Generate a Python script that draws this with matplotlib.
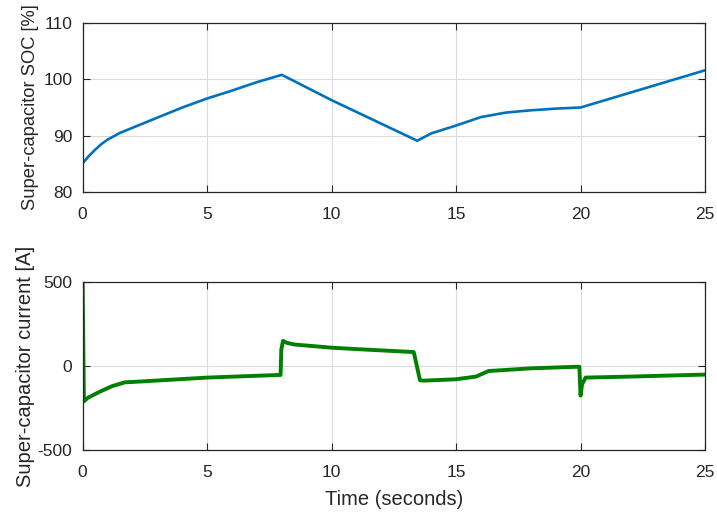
import matplotlib
matplotlib.use("Agg")
import matplotlib.pyplot as plt

plt.rcParams['font.family'] = ['Liberation Sans', 'DejaVu Sans']
plt.rcParams['axes.unicode_minus'] = False

# SOC data
soc_t = [0, 0.25, 0.5, 0.75, 1, 1.5, 2, 3, 4, 5, 6, 7, 8, 10, 13.44, 14, 15, 16, 17, 18, 19, 20, 25]
soc_v = [85.1, 86.4, 87.5, 88.5, 89.3, 90.5, 91.4, 93.2, 95.0, 96.6, 98.0, 99.5, 100.8, 96.3, 89.1,
         90.4, 91.8, 93.3, 94.1, 94.5, 94.8, 95.0, 101.6]

# Current data
cur_t = [0, 0.05, 0.2, 0.7, 1.2, 1.7, 2.0, 5.0, 7.95, 7.98, 8.05, 8.2, 8.5, 10, 11.2, 13.3,
         13.55, 13.7, 15, 15.8, 16.3, 18, 19.95, 20.0, 20.06, 20.2, 22, 25]
cur_v = [500, -210, -190, -152, -119, -97, -95, -69, -53, 100, 150, 138, 128, 109, 99, 83,
         -85, -87, -79, -63, -30, -14, -4, -176, -110, -69, -63, -51]

xticks = [0, 5, 10, 15, 20, 25]
soc_yticks = [80, 90, 100, 110]
cur_yticks = [-500, 0, 500]

fig = plt.figure(figsize=(7.17, 5.13), dpi=100)
ax1 = fig.add_axes([0.1153, 0.6257, 0.868, 0.3295])
ax2 = fig.add_axes([0.1153, 0.1228, 0.868, 0.3275])

edge = '#262626'
for ax in (ax1, ax2):
    ax.set_xlim(0, 25)
    ax.set_xticks(xticks)
    ax.grid(True, color='#dcdcdc', linewidth=0.8)
    ax.set_axisbelow(True)
    ax.tick_params(direction='in', top=True, right=True, labelsize=12.5,
                   colors=edge, length=5, width=0.8)
    ax.tick_params(axis='x', pad=11)
    ax.tick_params(axis='y', pad=7.5)
    for s in ax.spines.values():
        s.set_color(edge)
        s.set_linewidth(0.9)

ax1.plot(soc_t, soc_v, color='#0072BD', linewidth=1.9)
ax1.set_ylim(80, 110)
ax1.set_yticks(soc_yticks)
ax1.set_ylabel('Super-capacitor SOC [%]', fontsize=13.2, color=edge, labelpad=3)

ax2.plot(cur_t, cur_v, color='#008000', linewidth=2.8)
ax2.set_ylim(-500, 500)
ax2.set_yticks(cur_yticks)
ax2.set_ylabel('Super-capacitor current [A]', fontsize=14.5, color=edge, labelpad=2)
ax2.set_xlabel('Time (seconds)', fontsize=14.5, color=edge, labelpad=7)

fig.savefig('out.png', dpi=100)
